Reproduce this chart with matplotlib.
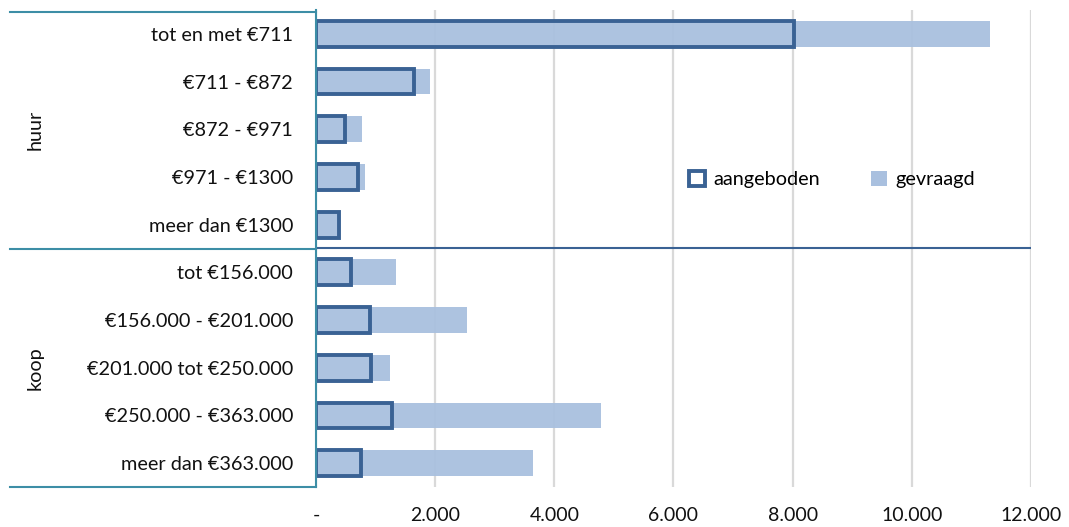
import matplotlib.pyplot as plt
from matplotlib.lines import Line2D
from matplotlib.patches import Patch
from matplotlib.ticker import FuncFormatter

plt.rcParams['font.family'] = ['Lato', 'DejaVu Sans']

# Categorieën (van boven naar beneden)
categorieen = ['tot en met €711', '€711 - €872', '€872 - €971', '€971 - €1300',
               'meer dan €1300',
               'tot €156.000', '€156.000 - €201.000', '€201.000 tot €250.000',
               '€250.000 - €363.000', 'meer dan €363.000']
groepen = ['huur', 'koop']

aangeboden = [8030, 1640, 490, 700, 390, 590, 900, 930, 1270, 760]
gevraagd = [11310, 1910, 770, 830, 370, 1340, 2540, 1240, 4780, 3650]

x_ticks = [0, 2000, 4000, 6000, 8000, 10000, 12000]

kleur_licht = '#a9c0df'
kleur_donker = '#3a6294'
kleur_teal = '#3d8ea6'

fig = plt.figure(figsize=(10.69, 5.27), dpi=100)
ax = fig.add_axes([316 / 1069, 1 - 487 / 527, 715 / 1069, 477 / 527])

y = list(range(len(categorieen)))
hoogte = 0.54

ax.barh(y, gevraagd, height=hoogte, color=kleur_licht, alpha=0.95, zorder=2)
ax.barh(y, aangeboden, height=hoogte, facecolor='none', edgecolor=kleur_donker,
        linewidth=2.8, zorder=3)

ax.set_ylim(len(categorieen) - 0.5, -0.5)
ax.set_xlim(0, 12000)
ax.set_yticks(y)
ax.set_yticklabels(categorieen, fontsize=14.3, color='#111111')
ax.tick_params(axis='y', length=0, pad=16.5)
ax.set_xticks(x_ticks)
ax.xaxis.set_major_formatter(FuncFormatter(
    lambda v, p: '-' if v == 0 else f'{int(v):,}'.replace(',', '.')))
ax.tick_params(axis='x', length=0, pad=14.5, labelsize=14, labelcolor='#111111')

# Rasterlijnen
ax.grid(axis='x', color='#d9d9d9', linewidth=1.6, zorder=0)
ax.set_axisbelow(True)

for s in ['top', 'right', 'bottom']:
    ax.spines[s].set_visible(False)
ax.spines['left'].set_color(kleur_teal)
ax.spines['left'].set_linewidth(1.5)
ax.spines['left'].set_zorder(4)

# Scheiding tussen huur en koop
ax.axhline(4.5, color=kleur_donker, linewidth=1.5, zorder=4)

# Groepslijnen links van de as
for yy in [12, 249, 487]:
    fig.add_artist(Line2D([10 / 1069, 316 / 1069], [1 - yy / 527, 1 - yy / 527],
                          transform=fig.transFigure, color=kleur_teal, linewidth=1.5))

fig.text(35 / 1069, 1 - 130 / 527, groepen[0], rotation=90, ha='center', va='center',
         fontsize=14.3, color='#111111')
fig.text(35 / 1069, 1 - 368 / 527, groepen[1], rotation=90, ha='center', va='center',
         fontsize=14.3, color='#111111')

# Legenda
handles = [Patch(facecolor='white', edgecolor=kleur_donker, linewidth=2.8, label='aangeboden'),
           Patch(facecolor=kleur_licht, edgecolor='none', label='gevraagd')]
ax.legend(handles=handles, loc='center left', bbox_to_anchor=(0.497, 0.645), ncol=2,
          frameon=False, fontsize=14.3, handlelength=0.8, handleheight=0.8,
          handletextpad=0.4, columnspacing=2.6)

plt.savefig('out.png', dpi=100)
